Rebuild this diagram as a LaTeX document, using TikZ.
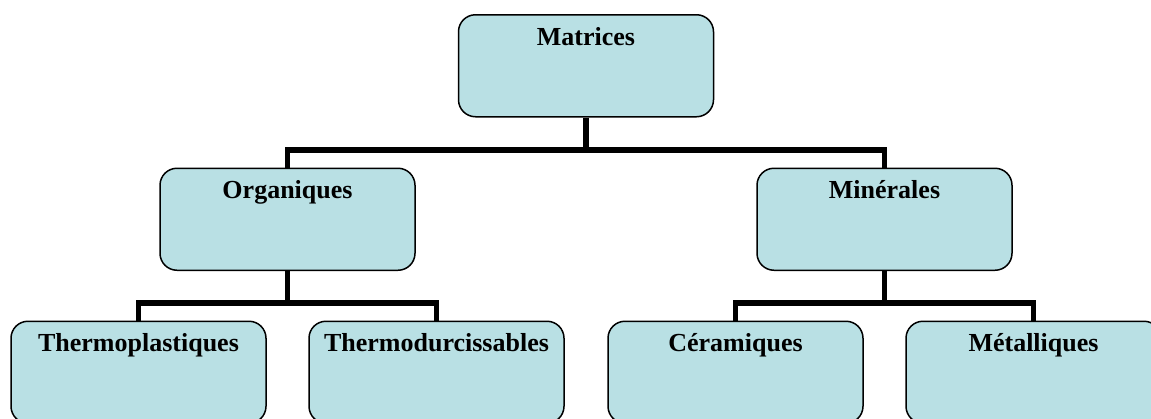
\documentclass[tikz,border=0pt]{standalone}
\usepackage{fontspec}
\setmainfont{Liberation Serif}
\definecolor{boxfill}{RGB}{185,224,228}
\begin{document}
\begin{tikzpicture}[x=1pt,y=-1pt,
  box/.style={draw=black, line width=1.5pt, fill=boxfill, rounded corners=17pt,
    minimum width=255pt, minimum height=102pt, inner sep=0pt, anchor=north},
  lbl/.style={font=\bfseries\fontsize{26}{30}\selectfont, anchor=base, inner sep=0pt},
  conn/.style={line width=5.5pt}]
\useasboundingbox (0,0) rectangle (1151,418);
\clip (0,0) rectangle (1151,418);
% boxes
\node[box] (mat) at (586,14) {};
\node[box] (org) at (287.5,167.5) {};
\node[box] (min) at (884.5,167.5) {};
\node[box] (tpl) at (138.5,320.5) {};
\node[box] (tdu) at (436.5,320.5) {};
\node[box] (cer) at (735.5,320.5) {};
\node[box] (met) at (1033.5,320.5) {};
% labels
\node[lbl] (tmat) at ([yshift=-31pt]mat.north) {Matrices};
\node[lbl] (torg) at ([yshift=-31pt]org.north) {Organiques};
\node[lbl] (tmin) at ([yshift=-31pt]min.north) {Minérales};
\node[lbl] (ttpl) at ([yshift=-31pt]tpl.north) {Thermoplastiques};
\node[lbl] (ttdu) at ([yshift=-31pt]tdu.north) {Thermodurcissables};
\node[lbl] (tcer) at ([yshift=-31pt]cer.north) {Céramiques};
\node[lbl] (tmet) at ([yshift=-31pt]met.north) {Métalliques};
% junctions
\coordinate (j1) at (586,150);
\coordinate (j2) at (287.5,303);
\coordinate (j3) at (884.5,303);
% connectors
\draw[conn] (mat.south) -- (j1);
\draw[conn] (org.north) |- (j1) -| (min.north);
\draw[conn] (org.south) -- (j2);
\draw[conn] (tpl.north) |- (j2) -| (tdu.north);
\draw[conn] (min.south) -- (j3);
\draw[conn] (cer.north) |- (j3) -| (met.north);
\end{tikzpicture}
\end{document}
